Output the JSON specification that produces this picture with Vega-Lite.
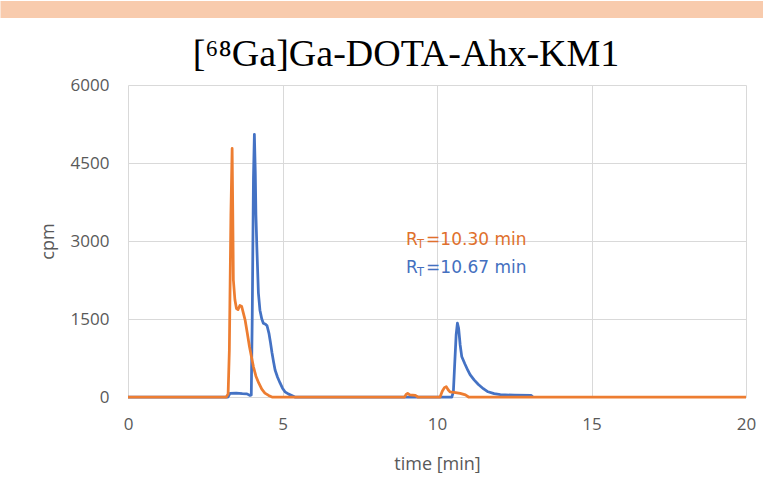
{
  "$schema": "https://vega.github.io/schema/vega-lite/v6.json",
  "background": "white",
  "padding": {"left": -9, "top": 0, "right": 0, "bottom": 0},
  "columns": 1,
  "align": "none",
  "spacing": 18,
  "config": {
    "view": {"stroke": null},
    "axis": {
      "grid": true,
      "gridColor": "#D9D9D9",
      "gridWidth": 1,
      "domain": false,
      "ticks": false,
      "tickSize": 0,
      "labelFont": "Open Sans",
      "labelFontSize": 17,
      "labelColor": "#595959",
      "labelPadding": 19,
      "titleFont": "Open Sans",
      "titleFontSize": 18,
      "titleFontWeight": "normal",
      "titleColor": "#595959"
    }
  },
  "datasets": {
    "lines": [
      {"s": "orange", "t": 0, "cpm": 0},
      {"s": "orange", "t": 3.18, "cpm": 0},
      {"s": "orange", "t": 3.24, "cpm": 60},
      {"s": "orange", "t": 3.28, "cpm": 900},
      {"s": "orange", "t": 3.33, "cpm": 3500},
      {"s": "orange", "t": 3.37, "cpm": 4780},
      {"s": "orange", "t": 3.39, "cpm": 3600},
      {"s": "orange", "t": 3.41, "cpm": 2250},
      {"s": "orange", "t": 3.46, "cpm": 1870},
      {"s": "orange", "t": 3.51, "cpm": 1700},
      {"s": "orange", "t": 3.56, "cpm": 1680},
      {"s": "orange", "t": 3.62, "cpm": 1760},
      {"s": "orange", "t": 3.68, "cpm": 1740},
      {"s": "orange", "t": 3.74, "cpm": 1600},
      {"s": "orange", "t": 3.79, "cpm": 1480},
      {"s": "orange", "t": 3.86, "cpm": 1230},
      {"s": "orange", "t": 3.93, "cpm": 970},
      {"s": "orange", "t": 4.0, "cpm": 760},
      {"s": "orange", "t": 4.06, "cpm": 580},
      {"s": "orange", "t": 4.14, "cpm": 400},
      {"s": "orange", "t": 4.23, "cpm": 270},
      {"s": "orange", "t": 4.33, "cpm": 150},
      {"s": "orange", "t": 4.43, "cpm": 75},
      {"s": "orange", "t": 4.55, "cpm": 30},
      {"s": "orange", "t": 4.66, "cpm": 0},
      {"s": "orange", "t": 8.95, "cpm": 0},
      {"s": "orange", "t": 9.0, "cpm": 50},
      {"s": "orange", "t": 9.05, "cpm": 70},
      {"s": "orange", "t": 9.12, "cpm": 40},
      {"s": "orange", "t": 9.3, "cpm": 30},
      {"s": "orange", "t": 9.38, "cpm": 0},
      {"s": "orange", "t": 10.1, "cpm": 0},
      {"s": "orange", "t": 10.17, "cpm": 110},
      {"s": "orange", "t": 10.24, "cpm": 180},
      {"s": "orange", "t": 10.3, "cpm": 200},
      {"s": "orange", "t": 10.36, "cpm": 140},
      {"s": "orange", "t": 10.42, "cpm": 100},
      {"s": "orange", "t": 10.55, "cpm": 90},
      {"s": "orange", "t": 10.75, "cpm": 70},
      {"s": "orange", "t": 10.92, "cpm": 40},
      {"s": "orange", "t": 11.02, "cpm": 0},
      {"s": "orange", "t": 20, "cpm": 0},
      {"s": "blue", "t": 0, "cpm": 0},
      {"s": "blue", "t": 3.24, "cpm": 0},
      {"s": "blue", "t": 3.3, "cpm": 70},
      {"s": "blue", "t": 3.5, "cpm": 75},
      {"s": "blue", "t": 3.7, "cpm": 65},
      {"s": "blue", "t": 3.85, "cpm": 60},
      {"s": "blue", "t": 3.95, "cpm": 30},
      {"s": "blue", "t": 3.99, "cpm": 40},
      {"s": "blue", "t": 4.02, "cpm": 1500},
      {"s": "blue", "t": 4.06, "cpm": 4200},
      {"s": "blue", "t": 4.09, "cpm": 5050},
      {"s": "blue", "t": 4.12, "cpm": 4300},
      {"s": "blue", "t": 4.14, "cpm": 3500},
      {"s": "blue", "t": 4.17, "cpm": 2880},
      {"s": "blue", "t": 4.22, "cpm": 2000},
      {"s": "blue", "t": 4.27, "cpm": 1670},
      {"s": "blue", "t": 4.33, "cpm": 1500},
      {"s": "blue", "t": 4.38, "cpm": 1420},
      {"s": "blue", "t": 4.45, "cpm": 1400},
      {"s": "blue", "t": 4.5, "cpm": 1370},
      {"s": "blue", "t": 4.56, "cpm": 1230},
      {"s": "blue", "t": 4.61, "cpm": 1050},
      {"s": "blue", "t": 4.66, "cpm": 850},
      {"s": "blue", "t": 4.71, "cpm": 680},
      {"s": "blue", "t": 4.76, "cpm": 520},
      {"s": "blue", "t": 4.84, "cpm": 380},
      {"s": "blue", "t": 4.92, "cpm": 270},
      {"s": "blue", "t": 5.0, "cpm": 170},
      {"s": "blue", "t": 5.08, "cpm": 100},
      {"s": "blue", "t": 5.2, "cpm": 55},
      {"s": "blue", "t": 5.3, "cpm": 30},
      {"s": "blue", "t": 5.4, "cpm": 0},
      {"s": "blue", "t": 10.48, "cpm": 0},
      {"s": "blue", "t": 10.53, "cpm": 100},
      {"s": "blue", "t": 10.57, "cpm": 600},
      {"s": "blue", "t": 10.62, "cpm": 1200},
      {"s": "blue", "t": 10.66, "cpm": 1420},
      {"s": "blue", "t": 10.7, "cpm": 1320},
      {"s": "blue", "t": 10.75, "cpm": 1000},
      {"s": "blue", "t": 10.8, "cpm": 780},
      {"s": "blue", "t": 10.9, "cpm": 640},
      {"s": "blue", "t": 11.0, "cpm": 510},
      {"s": "blue", "t": 11.07, "cpm": 430},
      {"s": "blue", "t": 11.2, "cpm": 330},
      {"s": "blue", "t": 11.34, "cpm": 240},
      {"s": "blue", "t": 11.5, "cpm": 160},
      {"s": "blue", "t": 11.65, "cpm": 100},
      {"s": "blue", "t": 11.85, "cpm": 65},
      {"s": "blue", "t": 12.05, "cpm": 45},
      {"s": "blue", "t": 12.5, "cpm": 35},
      {"s": "blue", "t": 13.05, "cpm": 30},
      {"s": "blue", "t": 13.1, "cpm": 0}
    ],
    "notes": [
      {"s": "orange", "t": 9.0, "cpm": 2923, "rt": "=10.30 min"},
      {"s": "blue", "t": 9.0, "cpm": 2385, "rt": "=10.67 min"}
    ]
  },
  "concat": [
    {
      "width": 635,
      "height": 17,
      "view": {"fill": "#F8CBAD", "stroke": null},
      "data": {"values": [{"band": "header"}]},
      "mark": {"type": "rect", "color": "#F8CBAD"},
      "encoding": {
        "y": {
          "field": "band",
          "type": "nominal",
          "scale": {"paddingInner": 0, "paddingOuter": 0},
          "axis": {
            "title": null,
            "labels": false,
            "grid": false,
            "domain": false,
            "ticks": true,
            "tickSize": 128,
            "tickWidth": 17,
            "tickCap": "butt",
            "tickColor": "#F8CBAD",
            "tickBand": "center",
            "labelPadding": 0,
            "minExtent": 128,
            "maxExtent": 128
          }
        }
      }
    },
    {
      "width": 618,
      "height": 312,
      "title": {
        "text": "[⁶⁸Ga]Ga-DOTA-Ahx-KM1",
        "font": "Liberation Serif",
        "fontSize": 38,
        "fontWeight": "normal",
        "color": "#000000",
        "anchor": "middle",
        "frame": "group",
        "dx": -31,
        "offset": 2
      },
      "data": {"name": "lines"},
      "encoding": {
        "x": {
          "field": "t",
          "type": "quantitative",
          "scale": {"domain": [0, 20], "nice": false},
          "axis": {
            "values": [0, 5, 10, 15, 20],
            "title": "time [min]",
            "labelFlush": false,
            "titlePadding": 23
          }
        },
        "y": {
          "field": "cpm",
          "type": "quantitative",
          "scale": {"domain": [0, 6000], "nice": false},
          "axis": {
            "values": [0, 1500, 3000, 4500, 6000],
            "format": "d",
            "title": "cpm",
            "minExtent": 128,
            "titleX": -70.5,
            "titleY": 156
          }
        }
      },
      "layer": [
        {
          "transform": [{"filter": "datum.s == 'blue'"}],
          "mark": {"type": "line", "color": "#4472C4", "strokeWidth": 2.75, "strokeJoin": "round"}
        },
        {
          "transform": [{"filter": "datum.s == 'orange'"}],
          "mark": {"type": "line", "color": "#ED7D31", "strokeWidth": 2.75, "strokeJoin": "round"}
        },
        {
          "data": {"name": "notes"},
          "mark": {"type": "text", "text": "R", "align": "left", "baseline": "alphabetic", "font": "DejaVu Sans", "fontSize": 17},
          "encoding": {
            "color": {"field": "s", "type": "nominal", "scale": {"domain": ["orange", "blue"], "range": ["#E0702C", "#4470C0"]}, "legend": null}
          }
        },
        {
          "data": {"name": "notes"},
          "mark": {"type": "text", "text": "T", "align": "left", "baseline": "alphabetic", "font": "DejaVu Sans", "fontSize": 11.5, "dx": 11, "dy": 3},
          "encoding": {
            "color": {"field": "s", "type": "nominal", "scale": {"domain": ["orange", "blue"], "range": ["#E0702C", "#4470C0"]}, "legend": null}
          }
        },
        {
          "data": {"name": "notes"},
          "mark": {"type": "text", "align": "left", "baseline": "alphabetic", "font": "DejaVu Sans", "fontSize": 17, "dx": 20},
          "encoding": {
            "text": {"field": "rt"},
            "color": {"field": "s", "type": "nominal", "scale": {"domain": ["orange", "blue"], "range": ["#E0702C", "#4470C0"]}, "legend": null}
          }
        }
      ]
    }
  ]
}
